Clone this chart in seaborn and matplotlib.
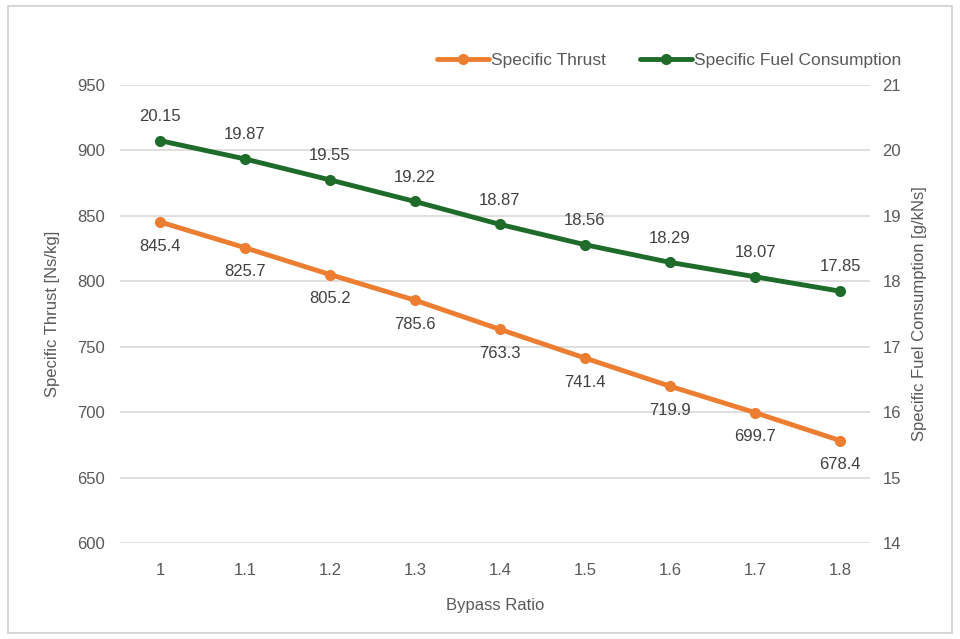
import matplotlib
matplotlib.use('Agg')
import matplotlib.pyplot as plt
import seaborn as sns
import pandas as pd
from matplotlib.patches import Rectangle

# Data
bypass_ratio = ['1', '1.1', '1.2', '1.3', '1.4', '1.5', '1.6', '1.7', '1.8']
specific_thrust = [845.4, 825.7, 805.2, 785.6, 763.3, 741.4, 719.9, 699.7, 678.4]
sfc = [20.15, 19.87, 19.55, 19.22, 18.87, 18.56, 18.29, 18.07, 17.85]

sns.set_style("white")
plt.rcParams['font.family'] = ['Liberation Sans', 'DejaVu Sans']

orange = '#ED7D31'
green = '#1E6B2A'
grey_text = '#595959'

df = pd.DataFrame({'Bypass Ratio': bypass_ratio,
                   'Specific Thrust': specific_thrust,
                   'SFC': sfc})

fig = plt.figure(figsize=(9.6, 6.39), dpi=100)
ax = fig.add_axes([0.125, 0.150, 0.781, 0.717])
ax2 = ax.twinx()

sns.lineplot(data=df, x='Bypass Ratio', y='Specific Thrust', ax=ax, color=orange,
             linewidth=3.5, marker='o', markersize=8, markeredgewidth=0,
             label='Specific Thrust', legend=False, sort=False)
sns.lineplot(data=df, x='Bypass Ratio', y='SFC', ax=ax2, color=green,
             linewidth=3.5, marker='o', markersize=8, markeredgewidth=0,
             label='Specific Fuel Consumption', legend=False, sort=False)

ax.set_ylim(600, 950)
ax.set_yticks(range(600, 951, 50))
ax2.set_ylim(14, 21)
ax2.set_yticks(range(14, 22))
ax.set_xlim(-0.47, 8.35)

ax.yaxis.grid(True, color='#D9D9D9', linewidth=1.2)
ax.set_axisbelow(True)
for a in (ax, ax2):
    for s in a.spines.values():
        s.set_visible(False)
    a.tick_params(length=0, colors=grey_text, labelsize=12)
ax.tick_params(axis='y', pad=11)
ax2.tick_params(axis='y', pad=9)
ax.tick_params(axis='x', pad=14)

ax.set_xlabel('Bypass Ratio', color=grey_text, fontsize=12, labelpad=15)
ax.set_ylabel('Specific Thrust [Ns/kg]', color=grey_text, fontsize=12, labelpad=12)
ax2.set_ylabel('Specific Fuel Consumption [g/kNs]', color=grey_text, fontsize=12, labelpad=8)

# Data labels
for i, v in enumerate(specific_thrust):
    ax.annotate(f'{v:.1f}', (i, v), xytext=(0, -12), textcoords='offset points',
                ha='center', va='top', color='#404040', fontsize=12)
for i, v in enumerate(sfc):
    ax2.annotate(f'{v:.2f}', (i, v), xytext=(0, 12), textcoords='offset points',
                 ha='center', va='bottom', color='#404040', fontsize=12)

h1, l1 = ax.get_legend_handles_labels()
h2, l2 = ax2.get_legend_handles_labels()
fig.legend(h1 + h2, l1 + l2, loc='center', bbox_to_anchor=(0.697, 0.905), ncol=2,
           frameon=False, fontsize=12.5, labelcolor=grey_text, handlelength=3,
           handletextpad=0.1, columnspacing=2.0)

fig.patches.append(Rectangle((0.008, 0.01), 0.984, 0.98, transform=fig.transFigure,
                             fill=False, edgecolor='#D0D0D0', linewidth=1.2))

plt.savefig('out.png', dpi=100)
